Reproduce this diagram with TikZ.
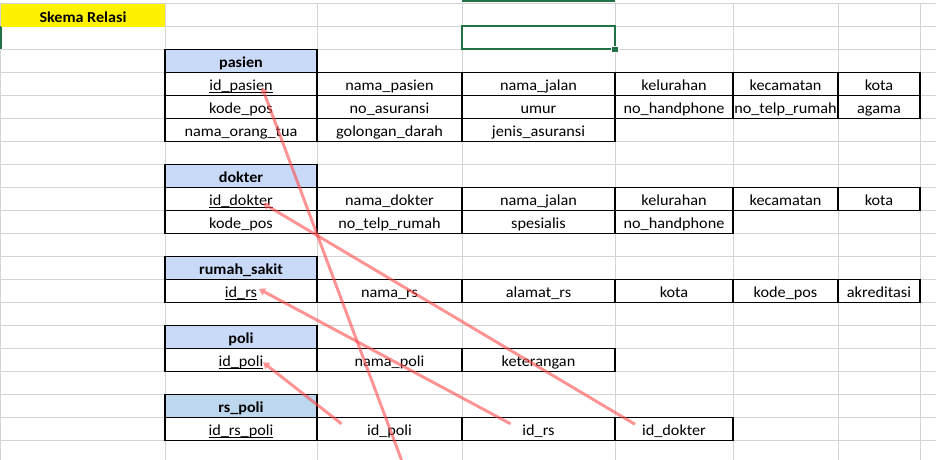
\documentclass[tikz,border=0pt]{standalone}
\usepackage{fontspec}
\setmainfont{Carlito}[FakeStretch=1.06]
\usetikzlibrary{arrows.meta,calc}
\definecolor{hdrblue}{HTML}{C9DAF8}
\definecolor{hdrbluetwo}{HTML}{BDD7EE}
\definecolor{gridgray}{HTML}{D4D4D4}
\definecolor{xlgreen}{HTML}{217346}
\definecolor{fkred}{HTML}{FF4A4A}
\newcommand\pk[1]{\setbox0\hbox{#1}\rlap{\vrule height -0.7pt depth 1.45pt width \wd0}\box0}
\begin{document}
\begin{tikzpicture}[x=0.75pt,y=-0.75pt,
  cellbox/.style={draw=black, line width=0.8pt, inner sep=0pt, outer sep=0pt,
    anchor=north west, minimum height=17.25pt, text height=10.4pt, text depth=0pt,
    font=\fontsize{11.5}{13}\selectfont},
  cw/.style={minimum width={(#1)*0.75pt}},
  hdr/.style={cellbox, fill=hdrblue, font=\fontsize{11.4}{13}\selectfont\bfseries},
  hdrtwo/.style={hdr, fill=hdrbluetwo},
  fk/.style={draw=fkred, line width=2.2pt, -{Triangle[length=4.6pt,width=5.6pt]}},
  gridline/.style={draw=gridgray, line width=0.75pt}]
\useasboundingbox (0,0) rectangle (936,460);
\clip (0,0) rectangle (936,460);
\fill[white] (0,0) rectangle (936,460);
% spreadsheet grid
\foreach \gx in {0.5,165,317,462,615,733,838,920}
  \draw[gridline] (\gx,3.3) -- (\gx,460);
\foreach \gy in {3.3,26.3,...,460}
  \draw[gridline] (0,\gy) -- (936,\gy);
% column/row header highlight
\draw[xlgreen, line width=1.8pt] (462,1.3) -- (615,1.3);
\draw[xlgreen, line width=1.6pt] (0.6,26.3) -- (0.6,49.3);
% title
\node[cellbox, draw=none, fill=yellow, cw=164, font=\fontsize{11.4}{13}\selectfont\bfseries] (title) at (1,3.8) {Skema Relasi};
% selected cell
\node[draw=xlgreen, line width=1.5pt, inner sep=0pt, outer sep=0pt, anchor=north west,
  minimum width={153*0.75pt}, minimum height={23*0.75pt}] (sel) at (462,26.3) {};
\node[fill=xlgreen, draw=white, line width=0.6pt, inner sep=0pt, minimum size=4.8pt] (handle) at (sel.south east) {};
% pasien
\node[hdr, cw=152] (ph) at (165,49.3) {pasien};
\node[cellbox, cw=152] (p11) at (165,72.3) {\pk{id\_pasien}};
\node[cellbox, cw=145] (p12) at (317,72.3) {nama\_pasien};
\node[cellbox, cw=153] (p13) at (462,72.3) {nama\_jalan};
\node[cellbox, cw=118] (p14) at (615,72.3) {kelurahan};
\node[cellbox, cw=105] (p15) at (733,72.3) {kecamatan};
\node[cellbox, cw=82] (p16) at (838,72.3) {kota};
\node[cellbox, cw=152] (p21) at (165,95.3) {kode\_pos};
\node[cellbox, cw=145] (p22) at (317,95.3) {no\_asuransi};
\node[cellbox, cw=153] (p23) at (462,95.3) {umur};
\node[cellbox, cw=118] (p24) at (615,95.3) {no\_handphone};
\node[cellbox, cw=105] (p25) at (733,95.3) {no\_telp\_rumah};
\node[cellbox, cw=82] (p26) at (838,95.3) {agama};
\node[cellbox, cw=152] (p31) at (165,118.3) {nama\_orang\_tua};
\node[cellbox, cw=145] (p32) at (317,118.3) {golongan\_darah};
\node[cellbox, cw=153] (p33) at (462,118.3) {jenis\_asuransi};
% dokter
\node[hdr, cw=152] (dh) at (165,164.3) {dokter};
\node[cellbox, cw=152] (d11) at (165,187.3) {\pk{id\_dokter}};
\node[cellbox, cw=145] (d12) at (317,187.3) {nama\_dokter};
\node[cellbox, cw=153] (d13) at (462,187.3) {nama\_jalan};
\node[cellbox, cw=118] (d14) at (615,187.3) {kelurahan};
\node[cellbox, cw=105] (d15) at (733,187.3) {kecamatan};
\node[cellbox, cw=82] (d16) at (838,187.3) {kota};
\node[cellbox, cw=152] (d21) at (165,210.3) {kode\_pos};
\node[cellbox, cw=145] (d22) at (317,210.3) {no\_telp\_rumah};
\node[cellbox, cw=153] (d23) at (462,210.3) {spesialis};
\node[cellbox, cw=118] (d24) at (615,210.3) {no\_handphone};
% rumah_sakit
\node[hdr, cw=152] (rh) at (165,256.3) {rumah\_sakit};
\node[cellbox, cw=152] (r11) at (165,279.3) {\pk{id\_rs}};
\node[cellbox, cw=145] (r12) at (317,279.3) {nama\_rs};
\node[cellbox, cw=153] (r13) at (462,279.3) {alamat\_rs};
\node[cellbox, cw=118] (r14) at (615,279.3) {kota};
\node[cellbox, cw=105] (r15) at (733,279.3) {kode\_pos};
\node[cellbox, cw=82] (r16) at (838,279.3) {akreditasi};
% poli
\node[hdr, cw=152] (oh) at (165,325.3) {poli};
\node[cellbox, cw=152] (o11) at (165,348.3) {\pk{id\_poli}};
\node[cellbox, cw=145] (o12) at (317,348.3) {nama\_poli};
\node[cellbox, cw=153] (o13) at (462,348.3) {keterangan};
% rs_poli
\node[hdrtwo, cw=152] (sh) at (165,394.3) {rs\_poli};
\node[cellbox, cw=152] (s11) at (165,417.3) {\pk{id\_rs\_poli}};
\node[cellbox, cw=145] (s12) at (317,417.3) {id\_poli};
\node[cellbox, cw=153] (s13) at (462,417.3) {id\_rs};
\node[cellbox, cw=118] (s14) at (615,417.3) {id\_dokter};
% connector end points
\coordinate (tipP) at ($(p11.center)+(21,3.4)$);
\coordinate (fromP) at (409,480);
\coordinate (tipD) at ($(d11.center)+(22,4.5)$);
\coordinate (fromD) at ($(s14.center)+(-39,-4.5)$);
\coordinate (tipR) at ($(r11.center)+(18,-1.8)$);
\coordinate (fromR) at ($(s13.center)+(-28,-5)$);
\coordinate (tipO) at ($(o11.center)+(22,2.5)$);
\coordinate (fromO) at ($(s12.center)+(-48,-5)$);
% connectors
\begin{scope}[transparency group, opacity=0.6]
  \draw[fk] (fromP) -- (tipP);
\end{scope}
\begin{scope}[transparency group, opacity=0.6]
  \draw[fk] (fromD) -- (tipD);
\end{scope}
\begin{scope}[transparency group, opacity=0.6]
  \draw[fk] (fromR) -- (tipR);
\end{scope}
\begin{scope}[transparency group, opacity=0.6]
  \draw[fk] (fromO) -- (tipO);
\end{scope}
\end{tikzpicture}
\end{document}
